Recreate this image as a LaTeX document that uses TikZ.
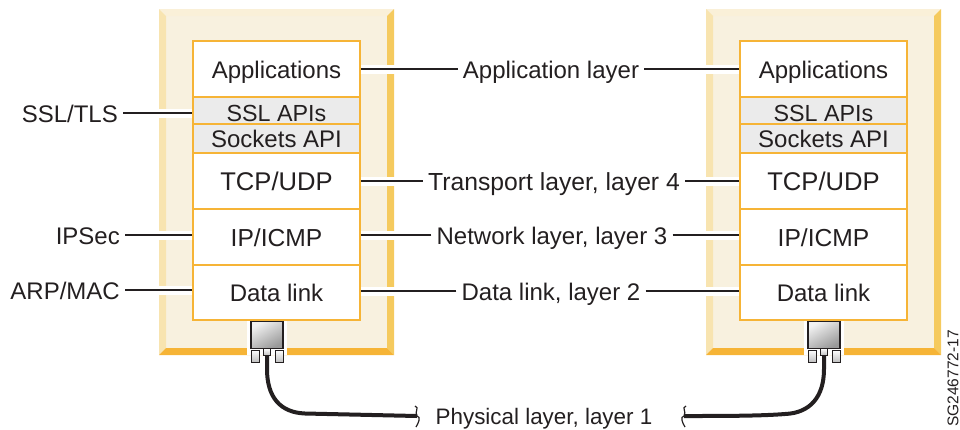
\documentclass[tikz,border=0pt]{standalone}
\usepackage{fontspec}
\setmainfont{Liberation Sans}
\definecolor{frameline}{HTML}{F6B436}
\definecolor{panelfill}{HTML}{F8F1DF}
\definecolor{bevelleft}{HTML}{F8E4B0}
\definecolor{beveltop}{HTML}{FAF0D8}
\definecolor{bevelright}{HTML}{F5CA5E}
\definecolor{inktext}{HTML}{231F20}
\tikzset{
  layerrow/.style={draw=frameline, line width=1.3pt, minimum width=167pt, inner sep=0pt, fill=#1,
    font=\fontsize{24}{28}\selectfont, text=inktext, text height=18pt, text depth=0pt},
  layerrow/.default=white,
  tag/.style={font=\fontsize{24}{28}\selectfont, text=inktext, inner sep=5pt, text height=18pt, text depth=0pt},
  link/.style={draw=inktext, line width=1.7pt, preaction={draw=white, line width=9pt}},
  cable/.style={draw=inktext, line width=4pt},
  squiggle/.style={draw=inktext, line width=1.2pt},
  pin/.style={draw=inktext, line width=1pt, inner sep=0pt, top color=white, bottom color=gray!50},
}
\begin{document}
\begin{tikzpicture}[x=1pt, y=-1pt, line join=miter]
  \useasboundingbox (0,0) rectangle (960,429);
  \foreach \side/\x/\plugx in {l/159/108, r/706/118} {
    % frame
    \begin{scope}[shift={(\x,0)}]
      \path[fill=panelfill] (0,9) rectangle (235,355);
      \path[fill=beveltop] (0,9) -- (235,9) -- (228,16) -- (7,16) -- cycle;
      \path[fill=bevelleft] (0,9) -- (7,16) -- (7,348) -- (0,355) -- cycle;
      \path[fill=bevelright] (235,9) -- (228,16) -- (228,348) -- (235,355) -- cycle;
      \path[fill=frameline] (0,355) -- (7,348) -- (228,348) -- (235,355) -- cycle;
      % stack
      \node[layerrow, minimum height=56pt] (\side apps) at (117.5,69) {Applications};
      \node[layerrow=black!8, minimum height=27pt, text height=21pt, font=\fontsize{23.3}{27}\selectfont] (\side ssl) at (117.5,110.5) {SSL APIs};
      \node[layerrow=black!8, minimum height=29pt] (\side sock) at (117.5,138.5) {Sockets API};
      \node[layerrow, minimum height=56pt, font=\fontsize{25.6}{28}\selectfont] (\side tcp) at (117.5,181) {TCP/UDP};
      \node[layerrow, minimum height=56pt, font=\fontsize{24.6}{28}\selectfont] (\side ip) at (117.5,237) {IP/ICMP};
      \node[layerrow, minimum height=55pt] (\side link) at (117.5,292.5) {Data link};
      % plug
      \path[fill=white] (\plugx-20,320.5) rectangle (\plugx+20,355);
      \node[draw=inktext, line width=1.3pt, minimum width=32pt, minimum height=27pt, inner sep=0pt,
        shading=axis, top color=black!5, bottom color=black!40, shading angle=30] (\side plug) at (\plugx,335) {};
      \node[pin, minimum width=8pt, minimum height=12pt] (\side pina) at (\plugx-12,356) {};
      \node[pin, minimum width=8pt, minimum height=12pt] (\side pinc) at (\plugx+12,356) {};
      \node[pin, minimum width=7pt, minimum height=7pt] (\side pinb) at (\plugx,352) {};
    \end{scope}
  }

  \node[tag, anchor=east] (ssltag) at (123,113) {SSL/TLS};
  \node[tag, anchor=east] (ipsectag) at (125,235) {IPSec};
  \node[tag, anchor=east] (arptag) at (125,290) {ARP/MAC};
  \path[link] (ssltag.east) -- (ssltag.east -| lssl.west);
  \path[link] (ipsectag.east) -- (ipsectag.east -| lip.west);
  \path[link] (arptag.east) -- (arptag.east -| llink.west);

  \node[tag] (apptag) at (551,69) {Application layer};
  \node[tag, font=\fontsize{24.7}{28}\selectfont] (transtag) at (554,181) {Transport layer, layer 4};
  \node[tag] (nettag) at (552,235) {Network layer, layer 3};
  \node[tag] (linktag) at (551,291) {Data link, layer 2};
  \foreach \tagname/\rowname in {apptag/apps, transtag/tcp, nettag/ip, linktag/link} {
    \path[link] (\tagname.west) -- (\tagname.west -| l\rowname.east);
    \path[link] (\tagname.east) -- (\tagname.east -| r\rowname.west);
  }

  \node[tag, font=\fontsize{22.4}{26}\selectfont] (phystag) at (544,415) {Physical layer, layer 1};
  \coordinate (lcut) at (417,416);
  \coordinate (rcut) at (684,416);
  \path[cable] (lpinb.south) -- ++(0,13) .. controls +(0,28) and +(-25,-1) .. (305,413.5) -- (lcut);
  \path[cable] (rpinb.south) -- ++(0,13) .. controls +(0,28) and +(25,-1) .. (785,414) .. controls (760,416) and (720,416) .. (rcut);
  \path[squiggle] (lcut) ++(-2,-10) .. controls +(5,2) and +(-3,-5) .. (lcut) .. controls +(4,1) and +(3,-5) .. ++(-1,11);
  \path[squiggle] (rcut) ++(2,-10) .. controls +(-5,2) and +(3,-5) .. (rcut) .. controls +(-4,1) and +(-3,-5) .. ++(1,11);

  \node[rotate=90, anchor=west, inner sep=0pt, font=\fontsize{15.5}{18}\selectfont, text=inktext] (figid) at (953,427) {SG246772-17};
\end{tikzpicture}
\end{document}
